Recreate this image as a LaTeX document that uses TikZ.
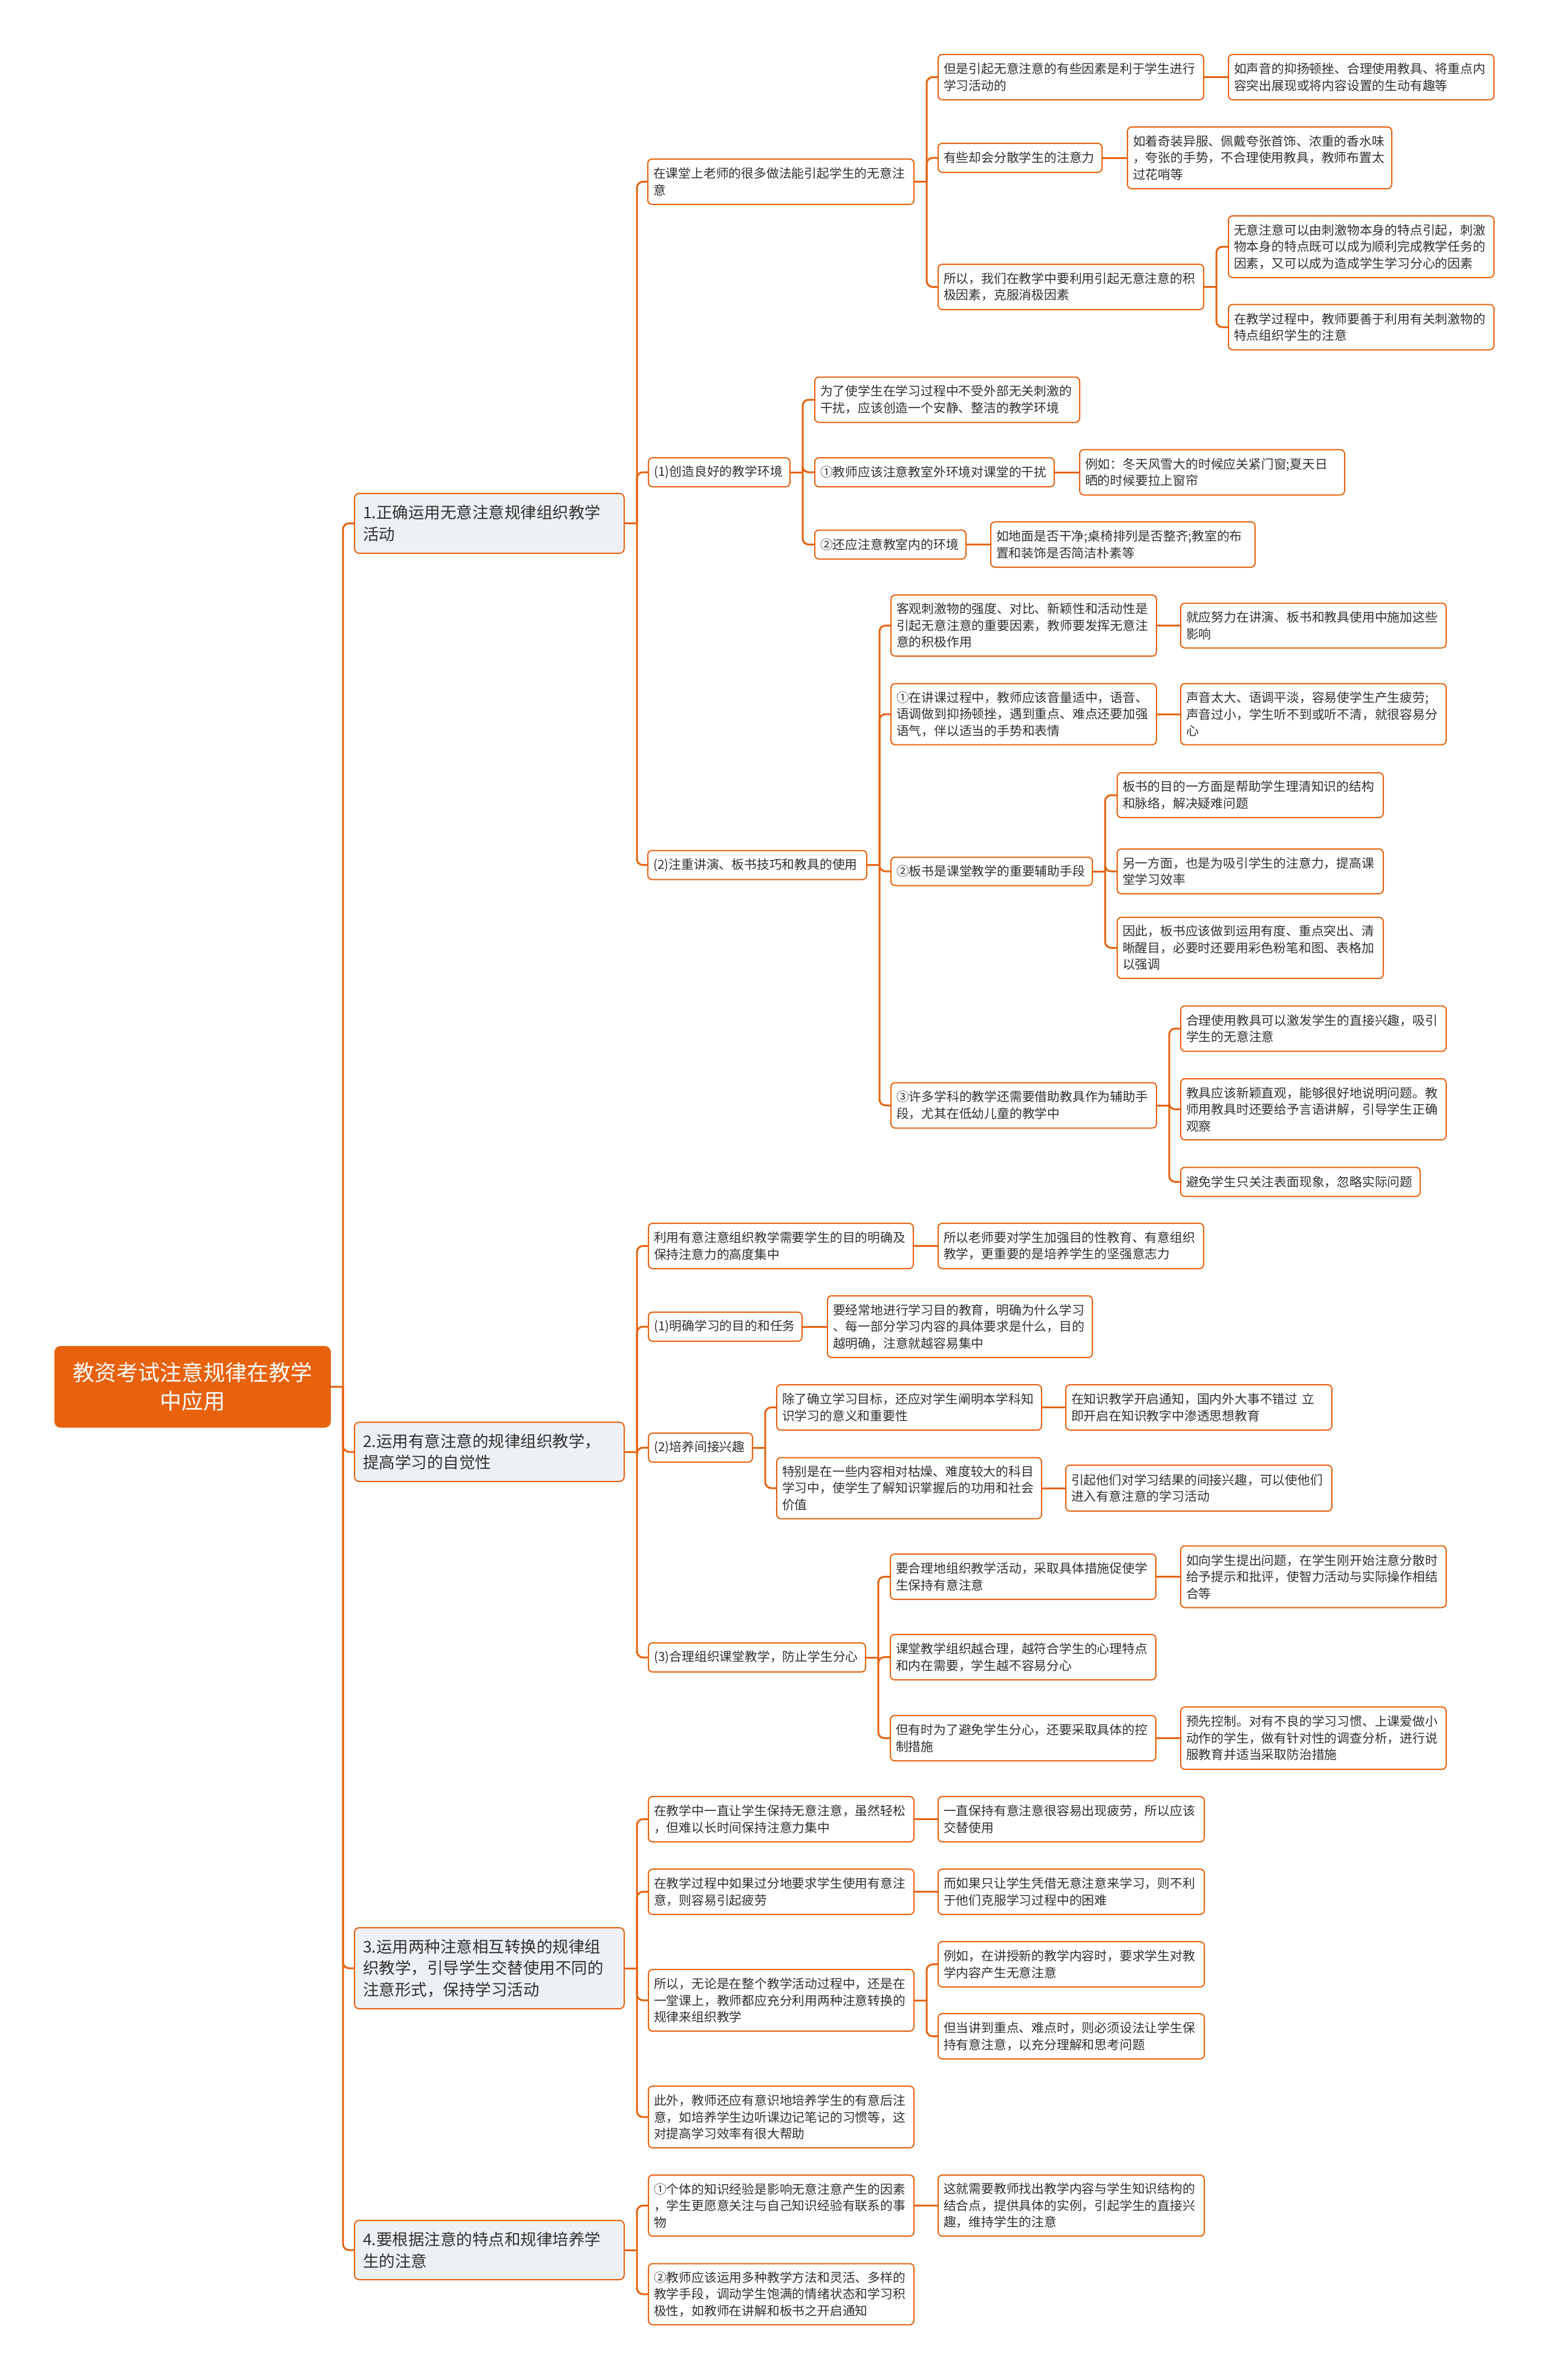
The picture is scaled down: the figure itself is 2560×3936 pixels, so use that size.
\documentclass[tikz,border=0pt]{standalone}
\usepackage{fontspec}
\setmainfont{Noto Sans CJK SC}
\usetikzlibrary{calc}
\definecolor{orng}{HTML}{E8620E}
\definecolor{lgray}{HTML}{EEF1F4}
\definecolor{txt}{HTML}{303030}
\tikzset{
  box/.style={draw=orng, line width=2pt, rounded corners=7pt, fill=white, anchor=west, align=left,
    inner xsep=9pt, inner ysep=0pt, text=txt, font=\fontsize{20.8}{27.5}\selectfont},
  lone/.style={draw=orng, line width=2pt, rounded corners=8pt, fill=lgray, anchor=west, align=left,
    inner xsep=14pt, inner ysep=0pt, text=txt, font=\fontsize{26.5}{35.5}\selectfont},
  rootbox/.style={draw=orng, line width=2pt, rounded corners=9pt, fill=orng, anchor=west, align=center,
    inner xsep=10pt, inner ysep=0pt, text=white, font=\fontsize{36}{47}\selectfont},
  conn/.style={draw=orng, line width=3pt, rounded corners=10pt},
}
\newcommand\mnode[6]{\pgfmathsetmacro\mytw{#4-18}\node[box, minimum width=#4pt, text width=\mytw pt, minimum height=#5pt] (#1) at (#2,#3) {#6};}
\newcommand\lnode[6]{\pgfmathsetmacro\mytw{#4-28}\node[lone, minimum width=#4pt, text width=\mytw pt, minimum height=#5pt] (#1) at (#2,#3) {#6};}
\newcommand\links[2]{\path (#1.east) ++(20,0) coordinate (b#1); \draw[conn] (#1.east) -- (b#1); \foreach \c in {#2} {\draw[conn] (b#1) |- (\c.west);}}
\newcommand\link[2]{\draw[conn] (#1.east) -- (#2.west);}
\begin{document}
\begin{tikzpicture}[x=1pt,y=-1pt]
\useasboundingbox (0,0) rectangle (2560,3936);
% root
\node[rootbox, minimum width=455pt, minimum height=133pt] (R) at (90,2293.5) {教资考试注意规律在教学\\中应用};
% level 1
\lnode{N1}{585}{865.5}{446}{99}{1.正确运用无意注意规律组织教学\\活动}
\lnode{N2}{585}{2401}{446}{98}{2.运用有意注意的规律组织教学，\\提高学习的自觉性}
\lnode{N3}{585}{3255}{446}{134}{3.运用两种注意相互转换的规律组\\织教学，引导学生交替使用不同的\\注意形式，保持学习活动}
\lnode{N4}{585}{3721}{446}{98}{4.要根据注意的特点和规律培养学\\生的注意}
% branch 1
\mnode{A}{1070}{300.5}{440}{75}{在课堂上老师的很多做法能引起学生的无意注\\意}
\mnode{A1}{1550}{127.5}{439}{75}{但是引起无意注意的有些因素是利于学生进行\\学习活动的}
\mnode{A1a}{2030}{127.5}{439}{75}{如声音的抑扬顿挫、合理使用教具、将重点内\\容突出展现或将内容设置的生动有趣等}
\mnode{A2}{1550}{261}{271}{48}{有些却会分散学生的注意力}
\mnode{A2a}{1863}{261}{437}{102}{如着奇装异服、佩戴夸张首饰、浓重的香水味\\，夸张的手势，不合理使用教具，教师布置太\\过花哨等}
\mnode{A3}{1550}{474.5}{439}{75}{所以，我们在教学中要利用引起无意注意的积\\极因素，克服消极因素}
\mnode{A3a}{2030}{408}{439}{102}{无意注意可以由刺激物本身的特点引起，刺激\\物本身的特点既可以成为顺利完成教学任务的\\因素，又可以成为造成学生学习分心的因素}
\mnode{A3b}{2030}{541}{439}{75}{在教学过程中，教师要善于利用有关刺激物的\\特点组织学生的注意}
\mnode{B}{1071}{781}{234}{48}{(1)创造良好的教学环境}
\mnode{B1}{1346}{661}{438}{75}{为了使学生在学习过程中不受外部无关刺激的\\干扰，应该创造一个安静、整洁的教学环境}
\mnode{B2}{1346}{781}{396}{48}{①教师应该注意教室外环境对课堂的干扰}
\mnode{B2a}{1784}{781}{438}{75}{例如：冬天风雪大的时候应关紧门窗;夏天日\\晒的时候要拉上窗帘}
\mnode{B3}{1346}{900.5}{250}{48}{②还应注意教室内的环境}
\mnode{B3a}{1637}{900.5}{437}{75}{如地面是否干净;桌椅排列是否整齐;教室的布\\置和装饰是否简洁朴素等}
\mnode{C}{1070}{1430.5}{362}{48}{(2)注重讲演、板书技巧和教具的使用}
\mnode{C1}{1472}{1034.5}{439}{101}{客观刺激物的强度、对比、新颖性和活动性是\\引起无意注意的重要因素，教师要发挥无意注\\意的积极作用}
\mnode{C1a}{1951}{1034.5}{439}{74}{就应努力在讲演、板书和教具使用中施加这些\\影响}
\mnode{C2}{1472}{1181}{439}{101}{①在讲课过程中，教师应该音量适中，语音、\\语调做到抑扬顿挫，遇到重点、难点还要加强\\语气，伴以适当的手势和表情}
\mnode{C2a}{1951}{1181}{439}{101}{声音太大、语调平淡，容易使学生产生疲劳;\\声音过小，学生听不到或听不清，就很容易分\\心}
\mnode{C3}{1472}{1441}{333}{47}{②板书是课堂教学的重要辅助手段}
\mnode{C3a}{1846}{1315}{440}{74}{板书的目的一方面是帮助学生理清知识的结构\\和脉络，解决疑难问题}
\mnode{C3b}{1846}{1441}{440}{74}{另一方面，也是为吸引学生的注意力，提高课\\堂学习效率}
\mnode{C3c}{1846}{1567.5}{440}{101}{因此，板书应该做到运用有度、重点突出、清\\晰醒目，必要时还要用彩色粉笔和图、表格加\\以强调}
\mnode{C4}{1472}{1828}{439}{75}{③许多学科的教学还需要借助教具作为辅助手\\段，尤其在低幼儿童的教学中}
\mnode{C4a}{1951}{1701}{439}{75}{合理使用教具可以激发学生的直接兴趣，吸引\\学生的无意注意}
\mnode{C4b}{1951}{1834.5}{439}{101}{教具应该新颖直观，能够很好地说明问题。教\\师用教具时还要给予言语讲解，引导学生正确\\观察}
\mnode{C4c}{1951}{1954.5}{396}{48}{避免学生只关注表面现象，忽略实际问题}
% branch 2
\mnode{D1}{1071}{2060.5}{438}{75}{利用有意注意组织教学需要学生的目的明确及\\保持注意力的高度集中}
\mnode{D1a}{1550}{2060.5}{439}{75}{所以老师要对学生加强目的性教育、有意组织\\教学，更重要的是培养学生的坚强意志力}
\mnode{D2}{1071}{2194}{254}{48}{(1)明确学习的目的和任务}
\mnode{D2a}{1367}{2194}{438}{102}{要经常地进行学习目的教育，明确为什么学习\\、每一部分学习内容的具体要求是什么，目的\\越明确，注意就越容易集中}
\mnode{D3}{1071}{2394}{172}{48}{(2)培养间接兴趣}
\mnode{D3a}{1283}{2327.5}{438}{75}{除了确立学习目标，还应对学生阐明本学科知\\识学习的意义和重要性}
\mnode{D3a1}{1761}{2327.5}{440}{75}{在知识教学开启通知，国内外大事不错过 立\\即开启在知识教字中渗透思想教育}
\mnode{D3b}{1283}{2461}{438}{101}{特别是在一些内容相对枯燥、难度较大的科目\\学习中，使学生了解知识掌握后的功用和社会\\价值}
\mnode{D3b1}{1761}{2461}{440}{76}{引起他们对学习结果的间接兴趣，可以使他们\\进入有意注意的学习活动}
\mnode{D4}{1071}{2741}{359}{48}{(3)合理组织课堂教学，防止学生分心}
\mnode{D4a}{1471}{2607.5}{439}{75}{要合理地组织教学活动，采取具体措施促使学\\生保持有意注意}
\mnode{D4a1}{1951}{2607.5}{439}{102}{如向学生提出问题，在学生刚开始注意分散时\\给予提示和批评，使智力活动与实际操作相结\\合等}
\mnode{D4b}{1471}{2740.5}{439}{75}{课堂教学组织越合理，越符合学生的心理特点\\和内在需要，学生越不容易分心}
\mnode{D4c}{1471}{2874.5}{439}{75}{但有时为了避免学生分心，还要采取具体的控\\制措施}
\mnode{D4c1}{1951}{2874.5}{439}{103}{预先控制。对有不良的学习习惯、上课爱做小\\动作的学生，做有针对性的调查分析，进行说\\服教育并适当采取防治措施}
% branch 3
\mnode{E1}{1071}{3008.5}{439}{75}{在教学中一直让学生保持无意注意，虽然轻松\\，但难以长时间保持注意力集中}
\mnode{E1a}{1550}{3008.5}{440}{75}{一直保持有意注意很容易出现疲劳，所以应该\\交替使用}
\mnode{E2}{1071}{3128.5}{439}{75}{在教学过程中如果过分地要求学生使用有意注\\意，则容易引起疲劳}
\mnode{E2a}{1550}{3128.5}{440}{75}{而如果只让学生凭借无意注意来学习，则不利\\于他们克服学习过程中的困难}
\mnode{E3}{1071}{3308}{439}{102}{所以，无论是在整个教学活动过程中，还是在\\一堂课上，教师都应充分利用两种注意转换的\\规律来组织教学}
\mnode{E3a}{1550}{3248.5}{440}{75}{例如，在讲授新的教学内容时，要求学生对教\\学内容产生无意注意}
\mnode{E3b}{1550}{3367.5}{440}{75}{但当讲到重点、难点时，则必须设法让学生保\\持有意注意，以充分理解和思考问题}
\mnode{E4}{1071}{3501}{439}{102}{此外，教师还应有意识地培养学生的有意后注\\意，如培养学生边听课边记笔记的习惯等，这\\对提高学习效率有很大帮助}
% branch 4
\mnode{F1}{1071}{3647.5}{439}{101}{①个体的知识经验是影响无意注意产生的因素\\，学生更愿意关注与自己知识经验有联系的事\\物}
\mnode{F1a}{1550}{3647.5}{440}{101}{这就需要教师找出教学内容与学生知识结构的\\结合点，提供具体的实例，引起学生的直接兴\\趣，维持学生的注意}
\mnode{F2}{1071}{3794}{439}{101}{②教师应该运用多种教学方法和灵活、多样的\\教学手段，调动学生饱满的情绪状态和学习积\\极性，如教师在讲解和板书之开启通知}
% connectors
\links{R}{N1,N2,N3,N4}
\links{N1}{A,B,C}
\links{A}{A1,A2,A3}
\link{A1}{A1a}
\link{A2}{A2a}
\links{A3}{A3a,A3b}
\links{B}{B1,B2,B3}
\link{B2}{B2a}
\link{B3}{B3a}
\links{C}{C1,C2,C3,C4}
\link{C1}{C1a}
\link{C2}{C2a}
\links{C3}{C3a,C3b,C3c}
\links{C4}{C4a,C4b,C4c}
\links{N2}{D1,D2,D3,D4}
\link{D1}{D1a}
\link{D2}{D2a}
\links{D3}{D3a,D3b}
\link{D3a}{D3a1}
\link{D3b}{D3b1}
\links{D4}{D4a,D4b,D4c}
\link{D4a}{D4a1}
\link{D4c}{D4c1}
\links{N3}{E1,E2,E3,E4}
\link{E1}{E1a}
\link{E2}{E2a}
\links{E3}{E3a,E3b}
\links{N4}{F1,F2}
\link{F1}{F1a}
\end{tikzpicture}
\end{document}
